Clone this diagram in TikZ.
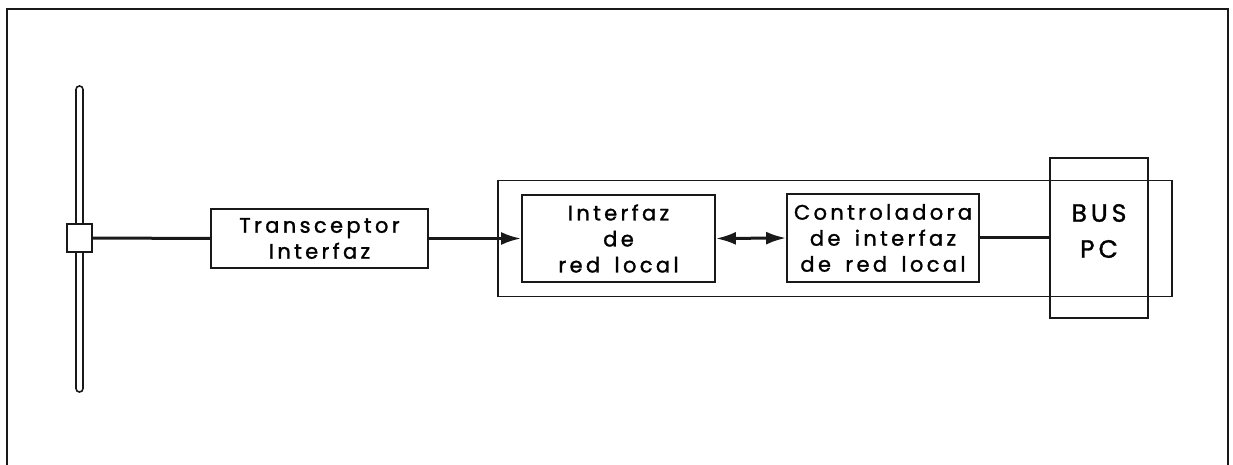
\documentclass[tikz,border=0pt]{standalone}
\usepackage{fontspec}
\setmainfont{Poppins}[LetterSpace=16,WordSpace=1.6,BoldFont=Poppins,BoldFeatures={FakeBold=1.3}]
\usepackage{tikz}
\usetikzlibrary{arrows.meta,calc,positioning}
\definecolor{trazo}{RGB}{25,25,25}
\tikzset{
  bloque/.style={draw=trazo,line width=0.9pt,fill=white,align=center,
    font=\fontsize{10.5}{13}\selectfont\bfseries,inner sep=0pt},
  enlace/.style={draw=trazo,line width=1.5pt},
  punta/.style={-{Latex[length=10pt,width=6.5pt]}}
}
\begin{document}
\begin{tikzpicture}[x=0.5pt,y=-0.5pt]
  \useasboundingbox (0,0) rectangle (1233,465);
  \draw[trazo,line width=1pt] (7,465) -- (7,9) -- (1228,9) -- (1228,465);
  % antena dipolo
  \draw[trazo,line width=0.8pt,rounded corners=1.7pt] (76,86) rectangle (83,392);
  \node[bloque,minimum width=12.5pt,minimum height=14pt] (ant) at (79.5,238) {};
  % tarjeta de red
  \node[bloque,fill=none,minimum width=337pt,minimum height=58pt] (tarjeta) at (835,238.5) {};
  \node[bloque,minimum width=108.5pt,minimum height=29.5pt] (trx) at (319.5,238.5) {Transceptor\\Interfaz};
  \node[bloque,minimum width=96.5pt,minimum height=43.5pt] (nic) at (618.5,238.5) {Interfaz\\de\\red local};
  \node[bloque,minimum width=96pt,minimum height=44pt] (ctrl) at (883,238) {Controladora\\de interfaz\\de red local};
  \node[bloque,fill=none,minimum width=49pt,minimum height=80pt] (bus) at (1099,238) {};
  \node[font=\fontsize{12.5}{18}\selectfont\bfseries,align=center] (bustxt) at (1099,231) {BUS\\PC};
  % conexiones
  \draw[enlace] (ant.east) -- (trx.west);
  \draw[enlace,punta] (trx.east) -- (nic.west);
  \draw[enlace,{Latex[length=10pt,width=6.5pt]}-{Latex[length=10pt,width=6.5pt]}] (nic.east) -- (ctrl.west);
  \draw[enlace] (ctrl.east) -- (bus.west);
\end{tikzpicture}
\end{document}
